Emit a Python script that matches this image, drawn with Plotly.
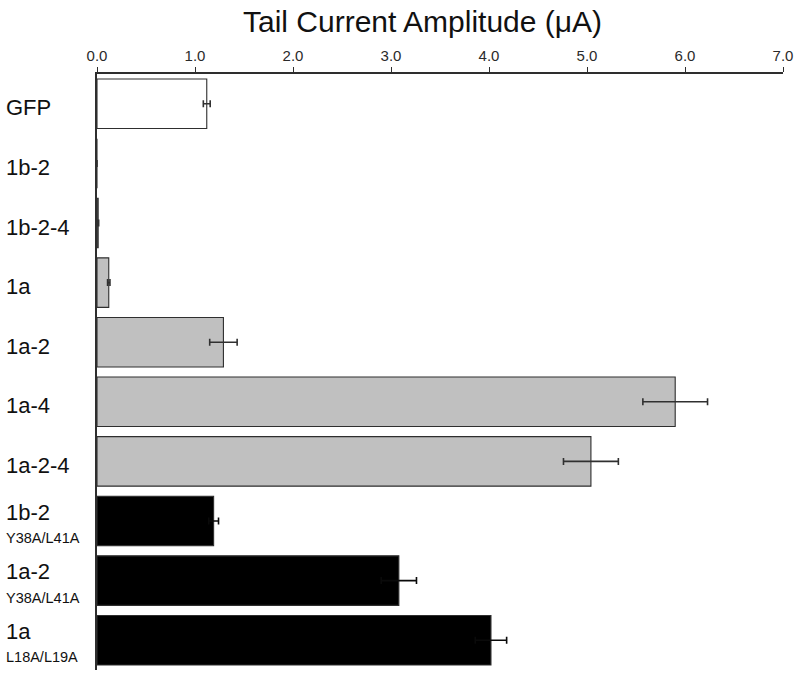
import plotly.graph_objects as go

main_labels = ["GFP", "1b-2", "1b-2-4", "1a", "1a-2", "1a-4", "1a-2-4", "1b-2", "1a-2", "1a"]
sub_labels = ["", "", "", "", "", "", "", "Y38A/L41A", "Y38A/L41A", "L18A/L19A"]
values = [1.12, 0.0, 0.012, 0.12, 1.29, 5.90, 5.04, 1.19, 3.08, 4.02]
errors = [0.035, 0.0, 0.005, 0.012, 0.14, 0.33, 0.28, 0.05, 0.18, 0.16]
groups = ["white", "gray", "gray", "gray", "gray", "gray", "gray", "black", "black", "black"]
group_colors = {"white": "#ffffff", "gray": "#c0c0c0", "black": "#000000"}
tick_vals = [0, 1, 2, 3, 4, 5, 6, 7]

FONT = "Liberation Sans, Arial, Helvetica, sans-serif"

fig = go.Figure()
for g in ["white", "gray", "black"]:
    idx = [i for i, gg in enumerate(groups) if gg == g]
    fig.add_trace(go.Bar(
        orientation="h",
        y=idx,
        x=[values[i] for i in idx],
        width=0.83,
        marker=dict(color=group_colors[g], line=dict(color="#2e2e2e", width=1.1)),
        error_x=dict(type="data", array=[errors[i] for i in idx], visible=True,
                     color="#303030" if g != "black" else "#0a0a0a", thickness=1.6, width=3.5),
        showlegend=False,
        hoverinfo="skip",
    ))

LX = -0.136
for i, (m, s) in enumerate(zip(main_labels, sub_labels)):
    if s:
        fig.add_annotation(x=LX, xref="paper", y=i - 0.15, yref="y", text=m,
                           xanchor="left", yanchor="middle", showarrow=False,
                           font=dict(family=FONT, size=22, color="#111"))
        fig.add_annotation(x=LX, xref="paper", y=i + 0.29, yref="y", text=s,
                           xanchor="left", yanchor="middle", showarrow=False,
                           font=dict(family=FONT, size=14.5, color="#111"))
    else:
        fig.add_annotation(x=LX, xref="paper", y=i + 0.07, yref="y", text=m,
                           xanchor="left", yanchor="middle", showarrow=False,
                           font=dict(family=FONT, size=22, color="#111"))

fig.add_annotation(x=0.474, xref="paper", y=1.088, yref="paper",
                   text="Tail Current Amplitude (\u03bcA)", showarrow=False,
                   xanchor="center", yanchor="middle",
                   font=dict(family=FONT, size=30, color="#111"))

fig.update_layout(
    width=800, height=684,
    margin=dict(l=97, r=17, t=74, b=14),
    plot_bgcolor="white", paper_bgcolor="white",
    xaxis=dict(side="top", range=[0, 7], tickvals=tick_vals, tickformat=".1f",
               showgrid=False, zeroline=False, showline=True, linecolor="#2e2e2e",
               linewidth=1.5, ticks="outside", ticklen=5, tickwidth=1.2, tickcolor="#2e2e2e",
               automargin=False,
               tickfont=dict(family=FONT, size=15, color="#2a2a2a")),
    yaxis=dict(range=[9.5, -0.5], showticklabels=False, showgrid=False, zeroline=False,
               showline=True, linecolor="#2e2e2e", linewidth=1.5, ticks="", automargin=False),
)

fig.write_html("out.html", config={"displayModeBar": False},
               post_script="document.body.style.margin='0';document.body.style.overflow='hidden';")
